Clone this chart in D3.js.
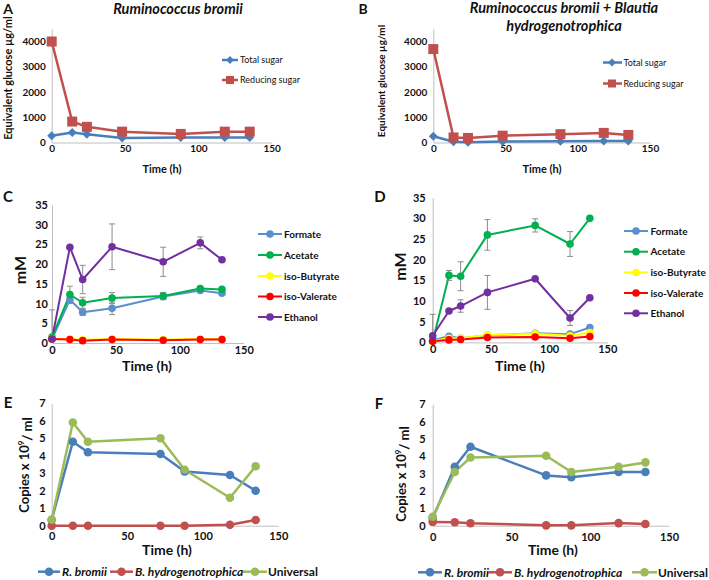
<!DOCTYPE html>
<html><head><meta charset="utf-8">
<script src="https://cdn.jsdelivr.net/npm/d3@7"></script>
<style>body{margin:0;background:#fff}svg{display:block}text{font-family:Lato,"Open Sans",sans-serif;fill:#111}</style>
</head><body><svg id="c" width="709" height="580"></svg>
<script>
// ---------- data ----------
const xTicks = [0, 50, 100, 150];
const sugarTicks = [0, 1000, 2000, 3000, 4000];
const mMTicks = [0, 5, 10, 15, 20, 25, 30, 35];
const copyTicks = [0, 1, 2, 3, 4, 5, 6, 7];

const timeA = [0, 14, 24, 48, 88, 118, 135];
const totalSugarA = [270, 400, 330, 180, 200, 200, 200];
const reducingSugarA = [4000, 830, 620, 430, 340, 430, 430];

const timeB = [0, 14, 24, 48, 88, 118, 135];
const totalSugarB = [250, 30, 10, 40, 50, 60, 60];
const reducingSugarB = [3700, 200, 180, 270, 330, 380, 300];

const timeC = [0, 14, 24, 47, 87, 116, 133];
const formateC = [1.0, 11.0, 7.8, 8.8, 11.8, 13.3, 12.6];
const formateErrC = [0, 1.0, 0.8, 1.6, 0.8, 0.4, 0];
const acetateC = [1.5, 12.3, 10.2, 11.4, 11.9, 13.8, 13.6];
const acetateErrC = [0, 2.1, 1.4, 1.4, 0.9, 0.5, 0];
const isoButyrateC = [1.1, 1.0, 0.8, 1.0, 0.9, 1.0, 1.0];
const isoValerateC = [1.0, 0.9, 0.6, 0.9, 0.7, 0.9, 0.9];
const ethanolC = [1.0, 24.3, 16.1, 24.4, 20.6, 25.4, 21.1];
const ethanolErrC = [7.4, 0, 3.6, 5.8, 3.7, 1.5, 0];

const timeD = [0, 14, 24, 47, 88, 118, 135];
const formateD = [0.5, 1.5, 1.0, 1.7, 2.2, 2.0, 3.6];
const acetateD = [0.3, 16.2, 16.0, 26.0, 28.3, 23.8, 30.0];
const acetateErrD = [0, 1.2, 3.5, 3.7, 1.6, 3.0, 0];
const isoButyrateD = [0.4, 1.0, 1.0, 1.8, 2.1, 1.6, 2.4];
const isoValerateD = [0.3, 0.6, 0.7, 1.2, 1.3, 1.0, 1.4];
const ethanolD = [1.6, 7.6, 8.8, 12.1, 15.4, 5.9, 10.8];
const ethanolErrD = [5.2, 0, 1.5, 4.1, 0, 1.8, 0];

const timeE = [0, 14, 24, 72, 88, 118, 135];
const rBromiiE = [0.33, 4.8, 4.2, 4.1, 3.1, 2.9, 2.0];
const bHydroE = [0, 0, 0, 0, 0, 0.05, 0.33];
const universalE = [0.35, 5.9, 4.8, 5.0, 3.2, 1.6, 3.4];

const timeF = [0, 14, 24, 72, 88, 118, 135];
const rBromiiF = [0.43, 3.4, 4.55, 2.9, 2.8, 3.1, 3.1];
const bHydroF = [0.22, 0.2, 0.14, 0.02, 0.02, 0.15, 0.1];
const universalF = [0.52, 3.1, 3.93, 4.03, 3.1, 3.4, 3.65];

// ---------- colours ----------
const BLUE = "#4a7ebb", RED = "#c0504d", GREEN_U = "#9bbb59";
const C_FORM = "#5b8fcf", C_ACE = "#00b050", C_BUT = "#ffff00", C_VAL = "#ff0000", C_ETH = "#7030a0";

const svg = d3.select("#c");

function makePanel(p) {
  const g = svg.append("g");
  const x = d3.scaleLinear([0, 150], [p.x0, p.x1]);
  const y = d3.scaleLinear([0, p.ymax], [p.y0, p.y1]);
  const ax = g.append("g").attr("transform", `translate(0,${p.y0})`)
    .call(d3.axisBottom(x).tickValues(xTicks).tickFormat(d3.format("d")).tickSize(0).tickPadding(p.xpad));
  const ay = g.append("g").attr("transform", `translate(${p.x0},0)`)
    .call(d3.axisLeft(y).tickValues(p.yTicks).tickFormat(d3.format("d")).tickSize(0).tickPadding(p.ypad));
  [ax, ay].forEach(a => {
    a.select(".domain").attr("stroke", "#bfbfbf").attr("stroke-width", 1);
    a.selectAll("text").attr("font-family", "Lato").attr("font-weight", "bold")
      .attr("font-size", p.tickFs).attr("fill", "#111");
  });
  return { g, x, y };
}

function drawErr(P, t, v, e, w) {
  t.forEach((tt, i) => {
    if (!e[i]) return;
    const lo = Math.max(0, v[i] - e[i]), hi = v[i] + e[i];
    const cx = P.x(tt);
    P.g.append("line").attr("x1", cx).attr("x2", cx).attr("y1", P.y(lo)).attr("y2", P.y(hi))
      .attr("stroke", "#8c8c8c").attr("stroke-width", 1);
    [hi].concat(v[i] - e[i] >= 0 ? [lo] : []).forEach(yy => {
      P.g.append("line").attr("x1", cx - w).attr("x2", cx + w).attr("y1", P.y(yy)).attr("y2", P.y(yy))
        .attr("stroke", "#8c8c8c").attr("stroke-width", 1);
    });
  });
}

function drawLine(P, t, v, color, lw) {
  const pts = t.map((tt, i) => [P.x(tt), P.y(v[i])]);
  P.g.append("path").attr("d", d3.line()(pts)).attr("fill", "none")
    .attr("stroke", color).attr("stroke-width", lw).attr("stroke-linejoin", "round");
  return pts;
}
function circles(P, pts, color, r) {
  P.g.selectAll(null).data(pts).join("circle").attr("cx", d => d[0]).attr("cy", d => d[1])
    .attr("r", r).attr("fill", color);
}
function squares(g, pts, color, s) {
  g.selectAll(null).data(pts).join("rect").attr("x", d => d[0] - s / 2).attr("y", d => d[1] - s / 2)
    .attr("width", s).attr("height", s).attr("fill", color);
}
function diamonds(g, pts, color, h) {
  g.selectAll(null).data(pts).join("path")
    .attr("d", d => `M${d[0]},${d[1] - h}L${d[0] + h},${d[1]}L${d[0]},${d[1] + h}L${d[0] - h},${d[1]}Z`)
    .attr("fill", color);
}

function txt(x, y, s, o = {}) {
  const t = svg.append("text").attr("x", x).attr("y", y).attr("dy", "0.35em")
    .attr("text-anchor", o.anchor || "middle").attr("font-size", o.fs || 11)
    .attr("font-weight", o.bold === false ? "normal" : "bold")
    .attr("font-style", o.italic ? "italic" : "normal")
    .attr("font-family", o.ff || "Lato").text(s);
  if (o.rot) t.attr("transform", `rotate(-90,${x},${y})`);
  return t;
}

// ---------- Panel A ----------
{
  const P = makePanel({ x0: 51.7, x1: 271.7, y0: 142.5, y1: 28.9, ymax: 4500, yTicks: sugarTicks, xpad: 2, ypad: 6, tickFs: 10 });
  const pr = drawLine(P, timeA, reducingSugarA, RED, 2.5);
  const pt = drawLine(P, timeA, totalSugarA, BLUE, 2.5);
  diamonds(P.g, pt, BLUE, 4.5);
  squares(P.g, pr, RED, 10);
  const lg = svg.append("g");
  lg.append("line").attr("x1", 222).attr("x2", 238).attr("y1", 60).attr("y2", 60).attr("stroke", BLUE).attr("stroke-width", 2.5);
  diamonds(lg, [[230, 60]], BLUE, 4);
  lg.append("line").attr("x1", 222).attr("x2", 238).attr("y1", 80).attr("y2", 80).attr("stroke", RED).attr("stroke-width", 2.5);
  squares(lg, [[230, 80]], RED, 8);
  txt(240, 60, "Total sugar", { anchor: "start", fs: 9, bold: false });
  txt(240, 80, "Reducing sugar", { anchor: "start", fs: 9, bold: false });
  txt(178, 9, "Ruminococcus bromii", { fs: 14.5, italic: true });
  txt(8, 9, "A", { fs: 14, ff: "Liberation Sans" });
  txt(8.5, 78, "Equivalent glucose µg/ml", { fs: 11, rot: true });
  txt(162, 169, "Time (h)", { fs: 11 });
}

// ---------- Panel B ----------
{
  const P = makePanel({ x0: 433.3, x1: 650, y0: 142.5, y1: 28.9, ymax: 4500, yTicks: sugarTicks, xpad: 2, ypad: 6, tickFs: 10 });
  const pr = drawLine(P, timeB, reducingSugarB, RED, 2.5);
  const pt = drawLine(P, timeB, totalSugarB, BLUE, 2.5);
  diamonds(P.g, pt, BLUE, 4.5);
  squares(P.g, pr, RED, 10);
  const lg = svg.append("g");
  lg.append("line").attr("x1", 603).attr("x2", 622).attr("y1", 62.5).attr("y2", 62.5).attr("stroke", BLUE).attr("stroke-width", 2.5);
  diamonds(lg, [[612, 62.5]], BLUE, 4);
  lg.append("line").attr("x1", 603).attr("x2", 622).attr("y1", 83.5).attr("y2", 83.5).attr("stroke", RED).attr("stroke-width", 2.5);
  squares(lg, [[612, 83.5]], RED, 8);
  txt(623.5, 62.5, "Total sugar", { anchor: "start", fs: 9, bold: false });
  txt(623.5, 83.5, "Reducing sugar", { anchor: "start", fs: 9, bold: false });
  txt(564, 8, "Ruminococcus bromii + Blautia", { fs: 14.5, italic: true });
  txt(564, 26, "hydrogenotrophica", { fs: 14.5, italic: true });
  txt(363, 9, "B", { fs: 14, ff: "Liberation Sans" });
  txt(381, 81, "Equivalent glucose µg/ml", { fs: 10, rot: true });
  txt(542, 169, "Time (h)", { fs: 11 });
}

// ---------- Panel C / D ----------
function vfaPanel(cfg, t, series) {
  const P = makePanel(cfg);
  series.forEach(s => { s.pts = drawLine(P, t, s.v, s.c, 2); });
  series.forEach(s => { if (s.e) drawErr(P, t, s.v, s.e, 3); });
  series.forEach(s => circles(P, s.pts, s.c, 3.8));
  return P;
}
{
  const series = [
    { n: "Formate", v: formateC, e: formateErrC, c: C_FORM },
    { n: "Acetate", v: acetateC, e: acetateErrC, c: C_ACE },
    { n: "iso-Butyrate", v: isoButyrateC, c: C_BUT },
    { n: "iso-Valerate", v: isoValerateC, c: C_VAL },
    { n: "Ethanol", v: ethanolC, e: ethanolErrC, c: C_ETH }
  ];
  vfaPanel({ x0: 52, x1: 243.7, y0: 343, y1: 205, ymax: 35, yTicks: mMTicks, xpad: 3, ypad: 4, tickFs: 11 }, timeC, series);
  const rows = [234, 255, 276, 296.5, 317];
  series.forEach((s, i) => {
    svg.append("line").attr("x1", 258).attr("x2", 282).attr("y1", rows[i]).attr("y2", rows[i]).attr("stroke", s.c).attr("stroke-width", 2);
    svg.append("circle").attr("cx", 270).attr("cy", rows[i]).attr("r", 3.8).attr("fill", s.c);
    txt(284, rows[i], s.n, { anchor: "start", fs: 10 });
  });
  txt(8, 197, "C", { fs: 15, ff: "Liberation Sans" });
  txt(20, 270, "mM", { fs: 16, rot: true });
  txt(147, 366, "Time (h)", { fs: 14 });
}
{
  const series = [
    { n: "Formate", v: formateD, c: C_FORM },
    { n: "Acetate", v: acetateD, e: acetateErrD, c: C_ACE },
    { n: "iso-Butyrate", v: isoButyrateD, c: C_BUT },
    { n: "iso-Valerate", v: isoValerateD, c: C_VAL },
    { n: "Ethanol", v: ethanolD, e: ethanolErrD, c: C_ETH }
  ];
  vfaPanel({ x0: 432.7, x1: 607.3, y0: 342.4, y1: 197.7, ymax: 35, yTicks: mMTicks, xpad: 3, ypad: 7, tickFs: 11 }, timeD, series);
  const rows = [231, 251.7, 272.5, 293, 313.3];
  series.forEach((s, i) => {
    svg.append("line").attr("x1", 624).attr("x2", 648).attr("y1", rows[i]).attr("y2", rows[i]).attr("stroke", s.c).attr("stroke-width", 2);
    svg.append("circle").attr("cx", 636).attr("cy", rows[i]).attr("r", 3.8).attr("fill", s.c);
    txt(650.5, rows[i], s.n, { anchor: "start", fs: 10 });
  });
  txt(380, 197, "D", { fs: 15, ff: "Liberation Sans" });
  txt(400, 266.5, "mM", { fs: 16, rot: true });
  txt(520, 366.5, "Time (h)", { fs: 14 });
}

// ---------- Panel E / F ----------
function copyPanel(cfg, t, series, leg, letter) {
  const P = makePanel(cfg);
  series.forEach(s => { s.pts = drawLine(P, t, s.v, s.c, 2.5); });
  series.forEach(s => circles(P, s.pts, s.c, 4.3));
  series.forEach((s, i) => {
    const L = leg.items[i];
    svg.append("line").attr("x1", L[0]).attr("x2", L[1]).attr("y1", leg.y).attr("y2", leg.y).attr("stroke", s.c).attr("stroke-width", 2.5);
    svg.append("circle").attr("cx", (L[0] + L[1]) / 2).attr("cy", leg.y).attr("r", 4.3).attr("fill", s.c);
    txt(L[2], leg.y, s.n, { anchor: "start", fs: 12, italic: s.it });
  });
  txt(letter.x, letter.y, letter.s, { fs: 15, ff: "Liberation Sans" });
  const yl = svg.append("text").attr("transform", `translate(${cfg.ylx},${cfg.yly}) rotate(-90)`)
    .attr("text-anchor", "middle").attr("dy", "0.35em").attr("font-size", 13).attr("font-weight", "bold")
    .attr("font-family", "Lato");
  yl.append("tspan").text("Copies x 10");
  yl.append("tspan").attr("font-size", 8).attr("dy", "-0.6em").text("9");
  yl.append("tspan").attr("dy", "0.6em").attr("font-size", 13).text("/ ml");
  txt((cfg.x0 + cfg.x1) / 2 + 2, 550.5, "Time (h)", { fs: 14 });
}
copyPanel({ x0: 51.7, x1: 278.3, y0: 525.7, y1: 403.3, ymax: 7, yTicks: copyTicks, xpad: 7, ypad: 6, tickFs: 11, ylx: 24, yly: 465 },
  timeE,
  [{ n: "R. bromii", v: rBromiiE, c: BLUE, it: true },
   { n: "B. hydrogenotrophica", v: bHydroE, c: RED, it: true },
   { n: "Universal", v: universalE, c: GREEN_U }],
  { y: 571.7, items: [[38, 60, 62], [110, 133, 135], [243, 267, 268]] },
  { x: 8, y: 403, s: "E" });
copyPanel({ x0: 432.7, x1: 669, y0: 525.7, y1: 404.3, ymax: 7, yTicks: copyTicks, xpad: 8, ypad: 7, tickFs: 11, ylx: 401, yly: 474 },
  timeF,
  [{ n: "R. bromii", v: rBromiiF, c: BLUE, it: true },
   { n: "B. hydrogenotrophica", v: bHydroF, c: RED, it: true },
   { n: "Universal", v: universalF, c: GREEN_U }],
  { y: 572.3, items: [[418, 442, 444], [488, 512, 514], [632, 657, 658]] },
  { x: 379, y: 403.5, s: "F" });
</script></body></html>
